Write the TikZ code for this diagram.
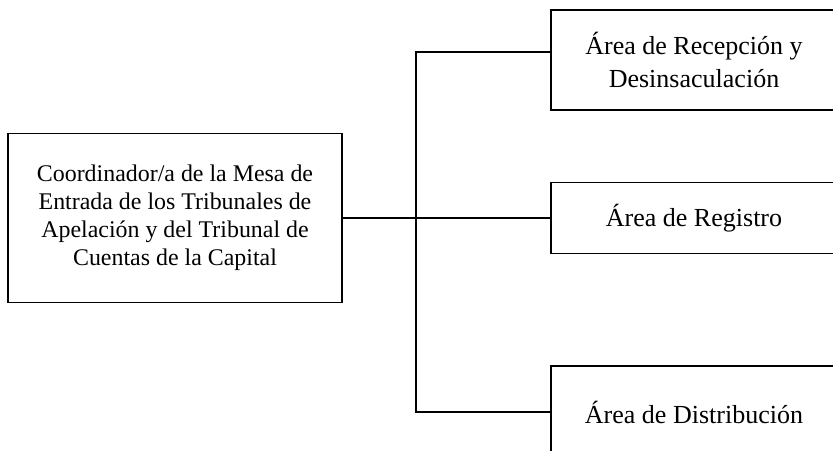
\documentclass[tikz,border=0pt]{standalone}
\usepackage{fontspec}
\setmainfont{Liberation Serif}
\usetikzlibrary{positioning}

\begin{document}
\begin{tikzpicture}[x=0.025cm,y=-0.025cm,
    box/.style={draw,line width=1.3pt,align=center,inner sep=0pt,
      font=\fontsize{17}{20}\selectfont},
    area/.style={box,minimum width=7.15cm,font=\fontsize{18.5}{23}\selectfont},
    link/.style={line width=1.3pt}]
  \useasboundingbox (0,0) rectangle (833,450);
  \clip (0,0) rectangle (833,450);
  %--------------- Coordinador --------------- 
  \node[box,minimum width=8.35cm,minimum height=4.225cm] (coord) at (175,218)
    {Coordinador/a de la Mesa de\\Entrada de los Tribunales de\\Apelación y del Tribunal de\\Cuentas de la Capital};
  %--------------- Areas --------------- 
  \node[area,minimum height=2.5cm] (recep) at (694,60)
    {Área de Recepción y\\Desinsaculación};
  \node[area,minimum height=1.775cm] (reg) at (694,218)
    {Área de Registro};
  \node[area,minimum height=2.3cm] (distr) at (694,412)
    {Área de Distribución};
  %--------------- lines --------------- 
  \coordinate (bus) at (416,218);
  \draw[link] (coord.east) -- (reg.west);
  \draw[link] ([yshift=0.2cm]recep.west) -| (bus) |- (distr.west);
\end{tikzpicture}
\end{document}
